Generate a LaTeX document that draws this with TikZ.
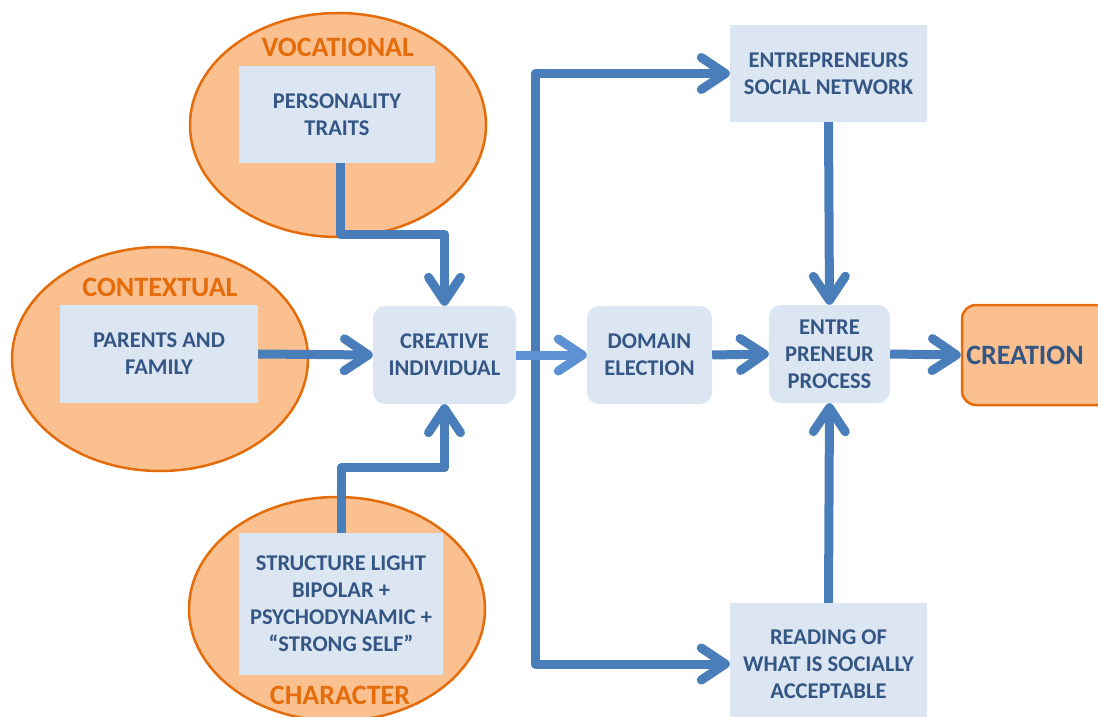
\documentclass[tikz,border=0pt]{standalone}
\usepackage{fontspec}
\setmainfont{Carlito}
\usetikzlibrary{arrows.meta,shapes.geometric}
\definecolor{lineblue}{RGB}{74,126,187}
\definecolor{lineblue2}{RGB}{92,146,212}
\definecolor{boxfill}{RGB}{220,230,242}
\definecolor{txtblue}{RGB}{52,86,132}
\definecolor{orfill}{RGB}{250,192,144}
\definecolor{ordraw}{RGB}{228,108,10}
\begin{document}
\begin{tikzpicture}[x=1pt,y=-1pt,
 every node/.style={font=\bfseries\fontsize{22.5}{27}\selectfont, align=center, inner sep=0pt},
 oval/.style={ellipse, fill=orfill, draw=ordraw, line width=2.5pt, minimum width=296pt, minimum height=224pt},
 sqbox/.style={fill=boxfill, text=txtblue},
 rbox/.style={fill=boxfill, text=txtblue, rounded corners=12pt},
 olabel/.style={text=ordraw, font=\bfseries\fontsize{28}{30}\selectfont},
 arr/.style={draw=lineblue, line width=9pt, line join=round, -{Straight Barb[length=24pt,width=32pt,round]}},
]
\useasboundingbox (0,0) rectangle (1098,717);
% ovals
\node[oval] (voc) at (338,125) {};
\node[oval] (ctx) at (160,359) {};
\node[oval] (chr) at (337,609) {};
% oval labels
\node[olabel] (lvoc) at (338,47) {VOCATIONAL};
\node[olabel] (lctx) at (160,287) {CONTEXTUAL};
\node[olabel] (lchr) at (340,695) {CHARACTER};
% boxes
\node[sqbox, minimum width=196pt, minimum height=97pt] (pt) at (337,114.5) {PERSONALITY\\TRAITS};
\node[sqbox, minimum width=198pt, minimum height=98pt] (pf) at (159,354) {PARENTS AND\\FAMILY};
\node[sqbox, minimum width=204pt, minimum height=142pt] (st) at (341,604) {STRUCTURE LIGHT\\BIPOLAR +\\PSYCHODYNAMIC +\\“STRONG SELF”};
\node[rbox, minimum width=143pt, minimum height=98pt] (ci) at (444.5,355) {CREATIVE\\INDIVIDUAL};
\node[rbox, minimum width=125pt, minimum height=98pt] (de) at (649.5,355) {DOMAIN\\ELECTION};
\node[rbox, minimum width=121pt, minimum height=98pt] (ep) at (829.5,354) {ENTRE\\PRENEUR\\PROCESS};
\node[sqbox, minimum width=197pt, minimum height=97pt] (esn) at (828.5,73.5) {ENTREPRENEURS\\SOCIAL NETWORK};
\node[sqbox, minimum width=197pt, minimum height=122pt] (rd) at (828.5,664) {READING OF\\WHAT IS SOCIALLY\\ACCEPTABLE};
\node[fill=orfill, draw=ordraw, line width=2.5pt, rounded corners=14pt, text=txtblue, minimum width=150pt, minimum height=100pt, font=\bfseries\fontsize{28}{30}\selectfont] (cr) at (1037,355) {CREATION\hspace{24pt}};
% connectors
\coordinate (sp) at (535,355);
\draw[arr] ([xshift=3pt]pt.south) -- ++(0,71) -| (ci.north);
\draw[arr] (pf.east) -- (ci.west);
\draw[arr] (st.north) -- ++(0,-65) -| (ci.south);
\draw[arr] (sp) |- (esn.west);
\draw[arr] (sp) |- (rd.west);
\draw[arr, draw=lineblue2] (ci.east) -- (de.west);
\draw[arr] (de.east) -- (ep.west);
\draw[arr] (esn.south) -- (ep.north);
\draw[arr] (rd.north) -- (ep.south);
\draw[arr] (ep.east) -- (cr.west);
\end{tikzpicture}
\end{document}
